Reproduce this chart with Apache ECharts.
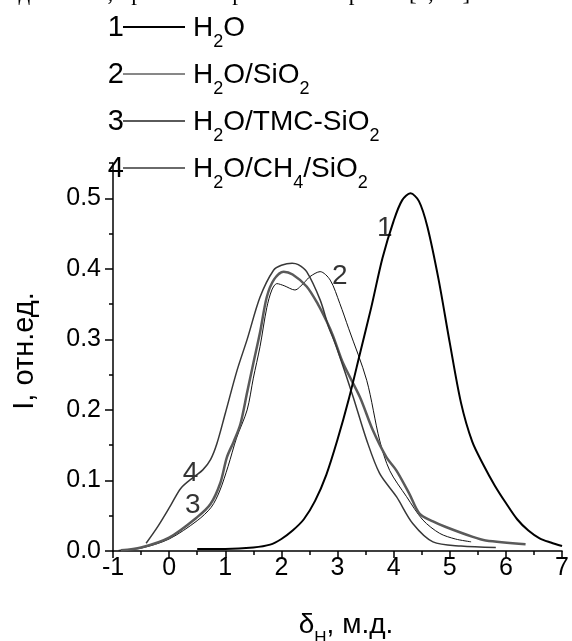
<!DOCTYPE html>
<html>
<head>
<meta charset="utf-8">
<script src="https://cdn.jsdelivr.net/npm/echarts@6/dist/echarts.min.js"></script>
<style>
html,body{margin:0;padding:0;background:#fff;}
#chart{width:572px;height:641px;}
</style>
</head>
<body>
<div id="chart"></div>
<script>
// ---- data ----
const xTicks = [-1, 0, 1, 2, 3, 4, 5, 6, 7];
const yTicks = [0, 0.1, 0.2, 0.3, 0.4, 0.5];

const h2oX = [0.5,1.0,1.5,1.8,2.0,2.2,2.4,2.6,2.8,3.0,3.2,3.4,3.6,3.8,4.0,4.15,4.3,4.45,4.6,4.8,5.0,5.2,5.4,5.6,5.8,6.0,6.2,6.4,6.6,6.8,7.0];
const h2oY = [0.003,0.003,0.005,0.009,0.017,0.029,0.045,0.071,0.108,0.158,0.215,0.28,0.345,0.415,0.468,0.497,0.507,0.496,0.46,0.385,0.295,0.21,0.155,0.122,0.093,0.068,0.045,0.029,0.018,0.012,0.007];

const sio2X = [-0.9,-0.5,0.0,0.5,0.75,0.9,1.05,1.2,1.39,1.5,1.62,1.74,1.83,1.92,2.05,2.24,2.4,2.51,2.69,2.87,3.04,3.2,3.52,3.75,3.93,4.23,4.52,4.82,5.1,5.38];
const sio2Y = [0.001,0.004,0.017,0.043,0.062,0.085,0.12,0.16,0.2,0.245,0.29,0.345,0.37,0.379,0.376,0.37,0.38,0.389,0.396,0.384,0.351,0.315,0.242,0.157,0.114,0.077,0.044,0.025,0.017,0.013];

const tmcX = [-0.86,-0.5,0.0,0.5,0.74,0.91,1.03,1.15,1.27,1.39,1.5,1.62,1.74,1.87,2.04,2.2,2.45,2.65,2.81,2.92,3.1,3.4,3.63,3.87,4.05,4.28,4.46,4.7,4.93,5.41,5.64,6.35];
const tmcY = [0.001,0.005,0.019,0.048,0.067,0.096,0.133,0.155,0.18,0.225,0.266,0.31,0.36,0.385,0.396,0.392,0.375,0.35,0.325,0.305,0.266,0.218,0.171,0.133,0.114,0.081,0.053,0.042,0.034,0.02,0.015,0.0095];

const ch4X = [-0.41,-0.2,0.03,0.21,0.44,0.6,0.74,0.85,1.0,1.21,1.39,1.62,1.86,2.0,2.19,2.3,2.45,2.69,2.84,2.92,3.0,3.28,3.52,3.75,4.05,4.34,4.7,5.2,5.82];
const ch4Y = [0.011,0.035,0.065,0.089,0.105,0.115,0.13,0.152,0.195,0.256,0.3,0.36,0.398,0.405,0.408,0.406,0.396,0.356,0.318,0.302,0.285,0.218,0.157,0.11,0.077,0.039,0.013,0.007,0.005];

const curveLabels = ['1', '2', '3', '4'];
const curveLabelX = [3.84, 3.04, 0.42, 0.38];
const curveLabelY = [0.458, 0.39, 0.065, 0.11];

const legendNums = ['1', '2', '3', '4'];
const legendNames = [
  '{m|H}{s|2}{m|O}',
  '{m|H}{s|2}{m|O/SiO}{s|2}',
  '{m|H}{s|2}{m|O/TMC-SiO}{s|2}',
  '{m|H}{s|2}{m|O/CH}{s|4}{m|/SiO}{s|2}'
];
const seriesColors = ['#000000', '#111111', '#5a5a5a', '#383838'];
const seriesWidths = [2, 1, 2.5, 1.5];

function pairs(xs, ys) { return xs.map((x, i) => [x, ys[i]]); }

const FONT = 'Liberation Sans, Arial, sans-serif';
const chart = echarts.init(document.getElementById('chart'));

const legendGraphics = [];
const rowBase = [38, 85, 132, 179];
legendNums.forEach((n, i) => {
  const cy = rowBase[i] - 10;
  legendGraphics.push({
    type: 'text', x: 124, y: cy,
    style: { text: n, font: '29px ' + FONT, fill: '#000', align: 'right', verticalAlign: 'middle' }
  });
  legendGraphics.push({
    type: 'line', shape: { x1: 123, y1: cy - 1, x2: 185, y2: cy - 1 },
    style: { stroke: seriesColors[i], lineWidth: seriesWidths[i] === 2.5 ? 2 : seriesWidths[i] }
  });
  legendGraphics.push({
    type: 'text', x: 193, y: cy,
    style: {
      text: legendNames[i], align: 'left', verticalAlign: 'middle', fill: '#000',
      rich: {
        m: { fontFamily: FONT, fontSize: 28, lineHeight: 47, fill: '#000' },
        s: { fontFamily: FONT, fontSize: 18, verticalAlign: 'bottom', fill: '#000' }
      }
    }
  });
});

const option = {
  animation: false,
  backgroundColor: '#fff',
  grid: { left: 113, right: 9, top: 163, bottom: 90, containLabel: false },
  xAxis: {
    type: 'value', min: xTicks[0], max: xTicks[xTicks.length - 1], interval: 1,
    axisLine: { onZero: false, lineStyle: { color: '#000', width: 1.5 } },
    axisTick: { show: true, inside: false, length: 7, lineStyle: { color: '#000', width: 1.5 } },
    minorTick: { show: true, splitNumber: 2, length: 4, lineStyle: { color: '#000', width: 1.5 } },
    splitLine: { show: false },
    axisLabel: { color: '#000', fontFamily: FONT, fontSize: 25, margin: 5 }
  },
  yAxis: [{
    type: 'value', min: 0, max: 0.55, interval: 0.1,
    axisLine: { show: true, onZero: false, lineStyle: { color: '#000', width: 1.5 } },
    axisTick: { show: true, inside: false, length: 8, customValues: yTicks, lineStyle: { color: '#000', width: 1.5 } },
    splitLine: { show: false },
    axisLabel: {
      color: '#000', fontFamily: FONT, fontSize: 25, margin: 12, customValues: yTicks,
      formatter: v => (v > 0.51 ? '' : v.toFixed(1))
    }
  }, {
    type: 'value', min: 0, max: 0.55, interval: 0.05, position: 'left', offset: 0,
    axisLine: { show: false, onZero: false },
    axisTick: { show: true, inside: false, length: 4, lineStyle: { color: '#000', width: 1.5 } },
    axisLabel: { show: false },
    splitLine: { show: false }
  }],
  series: [
    { name: 'H2O', type: 'line', data: pairs(h2oX, h2oY) },
    { name: 'H2O/SiO2', type: 'line', data: pairs(sio2X, sio2Y) },
    { name: 'H2O/TMC-SiO2', type: 'line', data: pairs(tmcX, tmcY) },
    { name: 'H2O/CH4/SiO2', type: 'line', data: pairs(ch4X, ch4Y) }
  ].map((s, i) => Object.assign(s, {
    showSymbol: false, symbol: 'none', smooth: 0.3, clip: true,
    lineStyle: { color: seriesColors[i], width: seriesWidths[i] },
    z: i === 0 ? 5 : 3
  })).concat([{
    type: 'scatter', symbolSize: 0, silent: true,
    data: curveLabels.map((t, i) => ({ value: [curveLabelX[i], curveLabelY[i]], name: t })),
    label: { show: true, position: 'inside', formatter: p => p.name, color: '#000', fontFamily: FONT, fontSize: 28 }
  }]),
  graphic: [
    {
      type: 'text', x: 476, y: 5,
      style: { text: 'данными, проанализированными ранее [9, 19].', font: '23px Liberation Serif, serif', fill: '#000', align: 'right', verticalAlign: 'bottom' }
    },
    {
      type: 'text', x: 25, y: 351, rotation: Math.PI / 2,
      style: { text: 'I, отн.ед.', font: '29px ' + FONT, fill: '#000', align: 'center', verticalAlign: 'middle' }
    },
    {
      type: 'text', x: 346, y: 625,
      style: {
        text: '{m|δ}{s|H}{m|, м.д.}', align: 'center', verticalAlign: 'middle',
        rich: {
          m: { fontFamily: FONT, fontSize: 28, lineHeight: 44, fill: '#000' },
          s: { fontFamily: FONT, fontSize: 17, verticalAlign: 'bottom', fill: '#000' }
        }
      }
    }
  ].concat(legendGraphics)
};
chart.setOption(option);
</script>
</body>
</html>
